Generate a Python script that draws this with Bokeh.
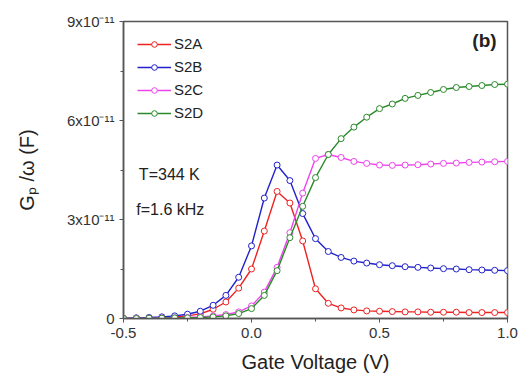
from bokeh.plotting import figure
from bokeh.models import FixedTicker, Label
from bokeh.embed import file_html
from bokeh.resources import INLINE

# Gate voltage (V)
voltage = [-0.5, -0.45, -0.4, -0.35, -0.3, -0.25, -0.2, -0.15, -0.1, -0.05,
           0.0, 0.05, 0.1, 0.15, 0.2, 0.25, 0.3, 0.35, 0.4, 0.45,
           0.5, 0.55, 0.6, 0.65, 0.7, 0.75, 0.8, 0.85, 0.9, 0.95, 1.0]

# Gp/omega in units of 1e-11 F
s2a = [0.0, 0.01, 0.02, 0.03, 0.05, 0.08, 0.14, 0.28, 0.5, 0.92,
       1.5, 2.65, 3.85, 3.5, 2.35, 0.9, 0.46, 0.32, 0.26, 0.23,
       0.22, 0.21, 0.2, 0.2, 0.19, 0.19, 0.19, 0.18, 0.18, 0.18, 0.18]
s2b = [0.0, 0.02, 0.03, 0.05, 0.08, 0.13, 0.22, 0.4, 0.7, 1.25,
       2.2, 3.65, 4.65, 4.18, 3.18, 2.42, 2.03, 1.85, 1.74, 1.68,
       1.63, 1.6, 1.57, 1.55, 1.53, 1.51, 1.5, 1.48, 1.47, 1.46, 1.45]
s2c = [0.0, 0.01, 0.01, 0.02, 0.02, 0.03, 0.05, 0.08, 0.12, 0.2,
       0.38, 0.8, 1.55, 2.6, 3.8, 4.85, 4.97, 4.88, 4.76, 4.7,
       4.65, 4.64, 4.65, 4.66, 4.68, 4.7, 4.71, 4.73, 4.74, 4.75, 4.76]
s2d = [0.0, 0.0, 0.01, 0.01, 0.02, 0.02, 0.03, 0.05, 0.08, 0.15,
       0.3, 0.7, 1.45, 2.45, 3.4, 4.27, 4.97, 5.45, 5.8, 6.1,
       6.36, 6.5, 6.67, 6.76, 6.85, 6.94, 7.0, 7.03, 7.06, 7.09, 7.1]

series_names = ["S2A", "S2B", "S2C", "S2D"]
series_values = [s2a, s2b, s2c, s2d]
series_colors = ["#ee2222", "#2222cc", "#ee44ee", "#2a8a2a"]

x_ticks = [-0.5, 0.0, 0.5, 1.0]
x_tick_labels = ["-0.5", "0.0", "0.5", "1.0"]
y_ticks = [0, 3, 6, 9]
y_tick_labels = ["0", "3x10\u207b\u00b9\u00b9", "6x10\u207b\u00b9\u00b9", "9x10\u207b\u00b9\u00b9"]

FONT = "Liberation Sans"

p = figure(width=520, height=375, output_backend="svg", toolbar_location=None,
           x_range=(-0.5, 1.0), y_range=(0, 9),
           min_border_left=123, min_border_right=13, min_border_top=21, min_border_bottom=57)
p.xgrid.visible = False
p.ygrid.visible = False
p.outline_line_color = "#555555"
p.outline_line_width = 1.5
p.background_fill_color = "white"
p.border_fill_color = "white"

p.xaxis.ticker = FixedTicker(ticks=x_ticks, minor_ticks=[-0.25, 0.25, 0.75])
p.xaxis.major_label_overrides = {t: l for t, l in zip(x_ticks, x_tick_labels)}
p.yaxis.ticker = FixedTicker(ticks=y_ticks, minor_ticks=[1.5, 4.5, 7.5])
p.yaxis.major_label_overrides = {t: l for t, l in zip(y_ticks, y_tick_labels)}

for ax in (p.xaxis, p.yaxis):
    ax.axis_line_color = "#555555"
    ax.axis_line_width = 1.5
    ax.major_tick_line_color = "#555555"
    ax.minor_tick_line_color = "#555555"
    ax.major_tick_out = 4
    ax.major_tick_in = 0
    ax.minor_tick_out = 3
    ax.minor_tick_in = 0
    ax.major_label_text_font = FONT
    ax.major_label_text_font_size = "15px"
    ax.major_label_text_color = "#333333"
    ax.axis_label_text_font = FONT
    ax.axis_label_text_font_size = "20px"
    ax.axis_label_text_font_style = "normal"
    ax.axis_label_text_color = "#222222"

p.xaxis.axis_label = "Gate Voltage (V)"
p.yaxis.axis_label = "G\u209a /\u03c9 (F)"
p.yaxis.axis_label_standoff = 26
p.xaxis.axis_label_standoff = 10

for name, vals, col in zip(series_names, series_values, series_colors):
    p.line(voltage, vals, line_color=col, line_width=1.4, legend_label=name)
    p.scatter(voltage, vals, marker="circle", size=6, line_color=col,
              fill_color="white", line_width=1.0, legend_label=name)

p.legend.location = "top_left"
p.legend.background_fill_alpha = 0
p.legend.border_line_alpha = 0
p.legend.label_text_font = FONT
p.legend.label_text_font_size = "15px"
p.legend.label_text_color = "#222222"
p.legend.glyph_width = 34
p.legend.glyph_height = 14
p.legend.spacing = 6
p.legend.padding = 4
p.legend.margin = 10
p.legend.label_standoff = 3

p.add_layout(Label(x=0.91, y=8.1, text="(b)", text_font=FONT, text_font_size="19px",
                   text_font_style="bold", text_color="#222222", text_align="center"))
p.add_layout(Label(x=-0.44, y=4.1, text="T=344 K", text_font=FONT, text_font_size="16px",
                   text_color="#222222"))
p.add_layout(Label(x=-0.45, y=3.05, text="f=1.6 kHz", text_font=FONT, text_font_size="16px",
                   text_color="#222222"))

open("out.html", "w").write(file_html(p, INLINE))
